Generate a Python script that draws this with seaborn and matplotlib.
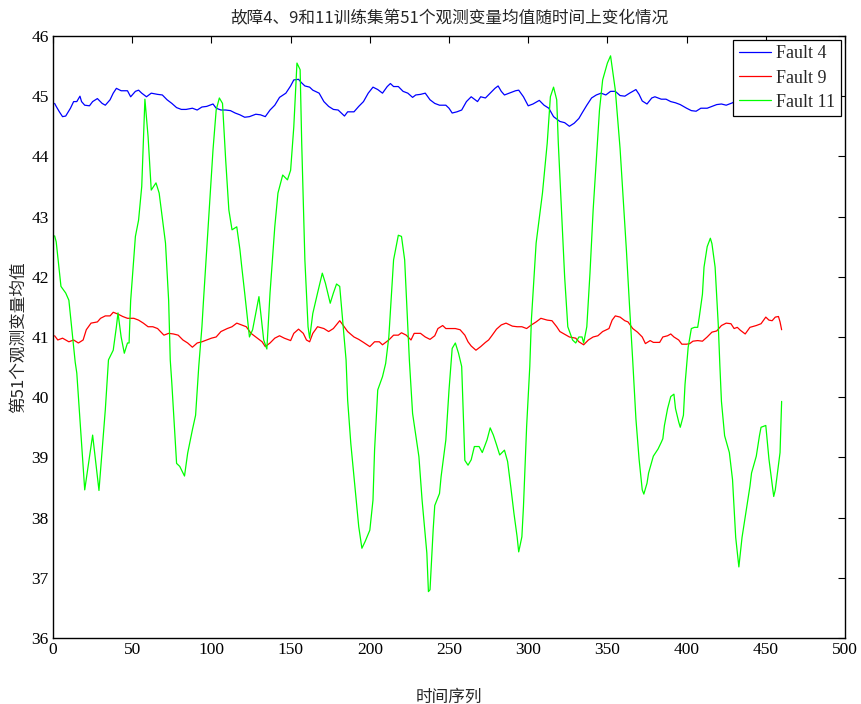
import matplotlib
matplotlib.use("Agg")
import matplotlib.pyplot as plt
import seaborn as sns
import pandas as pd

# Fault 4 — mean of observed variable 51 over time
f4_t = [1, 2, 4, 6, 8, 11, 13, 15, 17, 18, 20, 23, 25, 28, 31, 33, 36, 38, 40, 43, 47, 49, 52, 54, 56, 59,
        62, 66, 69, 72, 75, 78, 81, 84, 88, 91, 94, 97, 101, 103, 106, 109, 112, 115, 118, 121, 124, 128,
        131, 134, 137, 140, 143, 147, 150, 152, 155, 157, 159, 162, 164, 168, 171, 174, 177, 180, 184, 186,
        190, 193, 196, 199, 202, 205, 208, 211, 213, 215, 218, 221, 224, 227, 229, 232, 235, 238, 241, 244,
        248, 250, 252, 255, 258, 261, 264, 268, 270, 273, 276, 279, 281, 283, 285, 289, 292, 294, 297, 300,
        303, 307, 310, 313, 316, 318, 320, 323, 326, 329, 332, 334, 337, 340, 343, 346, 349, 352, 355, 358,
        361, 364, 368, 370, 372, 375, 378, 380, 384, 387, 390, 393, 396, 400, 403, 406, 409, 413, 416, 419,
        422, 425, 429, 432, 436, 440, 445, 450, 455, 460]
f4_v = [44.88, 44.83, 44.74, 44.66, 44.67, 44.80, 44.91, 44.91, 45.00, 44.91, 44.85, 44.84, 44.91, 44.96,
        44.88, 44.85, 44.94, 45.05, 45.13, 45.09, 45.09, 44.99, 45.08, 45.10, 45.05, 44.99, 45.05, 45.03,
        45.02, 44.94, 44.88, 44.81, 44.78, 44.78, 44.80, 44.77, 44.82, 44.83, 44.87, 44.80, 44.77, 44.77,
        44.76, 44.72, 44.69, 44.65, 44.66, 44.70, 44.69, 44.66, 44.77, 44.85, 44.98, 45.05, 45.17, 45.27,
        45.28, 45.22, 45.17, 45.15, 45.10, 45.05, 44.91, 44.83, 44.78, 44.77, 44.67, 44.74, 44.74, 44.83,
        44.91, 45.05, 45.15, 45.11, 45.05, 45.16, 45.21, 45.16, 45.16, 45.08, 45.05, 44.98, 45.02, 45.03,
        45.05, 44.94, 44.88, 44.85, 44.85, 44.80, 44.72, 44.74, 44.77, 44.91, 44.99, 44.91, 44.99, 44.97,
        45.05, 45.13, 45.17, 45.08, 45.02, 45.06, 45.09, 45.10, 44.99, 44.84, 44.87, 44.93, 44.85, 44.80,
        44.66, 44.62, 44.58, 44.56, 44.50, 44.55, 44.63, 44.72, 44.85, 44.97, 45.02, 45.05, 45.02, 45.08,
        45.08, 45.01, 45.00, 45.05, 45.11, 45.03, 44.92, 44.87, 44.97, 44.99, 44.95, 44.95, 44.91, 44.89,
        44.86, 44.80, 44.76, 44.75, 44.80, 44.80, 44.83, 44.86, 44.87, 44.85, 44.89, 44.95, 44.97, 45.00,
        45.02, 45.00, 45.03, 45.00]

# Fault 9
f9_t = [1, 3, 6, 10, 13, 16, 19, 21, 24, 28, 30, 33, 36, 38, 41, 44, 47, 51, 54, 57, 60, 63, 66, 70, 73,
        76, 79, 82, 85, 88, 91, 94, 97, 100, 103, 106, 110, 113, 116, 119, 122, 125, 129, 132, 134, 137,
        140, 143, 146, 150, 152, 155, 158, 160, 162, 164, 167, 171, 174, 177, 181, 183, 186, 190, 193, 196,
        200, 203, 206, 208, 212, 215, 218, 220, 223, 226, 228, 232, 235, 238, 241, 243, 246, 248, 251, 254,
        257, 260, 262, 264, 267, 270, 273, 275, 277, 280, 283, 286, 290, 293, 296, 299, 302, 305, 308, 312,
        315, 318, 320, 322, 324, 326, 330, 332, 335, 338, 341, 344, 347, 351, 353, 355, 358, 361, 363, 366,
        369, 372, 374, 377, 379, 383, 385, 388, 390, 392, 395, 397, 400, 402, 404, 407, 410, 413, 416, 419,
        422, 425, 428, 430, 432, 434, 437, 440, 444, 447, 450, 452, 454, 456, 458, 459, 460]
f9_v = [41.02, 40.95, 40.98, 40.92, 40.95, 40.90, 40.95, 41.12, 41.23, 41.25, 41.31, 41.35, 41.35, 41.41,
        41.38, 41.34, 41.31, 41.31, 41.28, 41.23, 41.17, 41.17, 41.14, 41.03, 41.06, 41.05, 41.03, 40.95,
        40.90, 40.83, 40.90, 40.92, 40.95, 40.98, 41.00, 41.09, 41.14, 41.17, 41.23, 41.20, 41.17, 41.06,
        40.98, 40.92, 40.84, 40.90, 40.98, 41.02, 40.98, 40.94, 41.06, 41.13, 41.06, 40.95, 40.92, 41.06,
        41.17, 41.14, 41.09, 41.14, 41.27, 41.20, 41.09, 41.00, 40.96, 40.91, 40.84, 40.92, 40.92, 40.87,
        40.95, 41.03, 41.03, 41.07, 41.03, 40.95, 41.06, 41.06, 41.00, 40.96, 41.02, 41.14, 41.19, 41.14,
        41.14, 41.14, 41.12, 41.03, 40.92, 40.85, 40.78, 40.84, 40.91, 40.95, 41.02, 41.13, 41.20, 41.23,
        41.18, 41.17, 41.17, 41.14, 41.20, 41.25, 41.31, 41.28, 41.27, 41.17, 41.09, 41.06, 41.03, 41.00,
        40.98, 40.92, 40.87, 40.95, 41.00, 41.02, 41.09, 41.14, 41.28, 41.35, 41.33, 41.27, 41.25, 41.14,
        41.08, 41.00, 40.89, 40.94, 40.91, 40.91, 41.00, 41.02, 41.05, 41.00, 40.95, 40.88, 40.88, 40.89,
        40.93, 40.94, 40.93, 41.00, 41.08, 41.10, 41.19, 41.23, 41.22, 41.14, 41.16, 41.11, 41.05, 41.16,
        41.19, 41.22, 41.33, 41.28, 41.27, 41.33, 41.34, 41.25, 41.12]

# Fault 11
f11_t = [1, 2, 5, 8, 10, 14, 15, 20, 25, 29, 33, 35, 38, 40, 41, 43, 45, 47, 48, 49, 52, 54, 56, 58, 60,
         62, 65, 67, 71, 73, 74, 75, 78, 80, 83, 85, 88, 90, 92, 94, 95, 97, 101, 103, 105, 107, 109, 111,
         113, 116, 118, 119, 121, 124, 126, 130, 133, 135, 137, 140, 142, 145, 148, 150, 152, 154, 156, 157,
         159, 161, 162, 164, 167, 170, 172, 175, 177, 179, 181, 183, 185, 186, 188, 191, 193, 195, 197, 200,
         202, 203, 205, 208, 210, 212, 215, 218, 220, 222, 224, 225, 227, 231, 233, 236, 237, 238, 240, 241,
         244, 245, 248, 250, 252, 254, 256, 258, 260, 262, 264, 266, 269, 271, 274, 276, 278, 280, 282, 285,
         287, 289, 291, 293, 294, 296, 297, 299, 301, 302, 305, 309, 312, 314, 316, 318, 319, 321, 323, 325,
         328, 330, 332, 334, 335, 337, 339, 341, 343, 345, 347, 350, 352, 355, 358, 360, 362, 364, 366, 368,
         370, 372, 373, 375, 376, 379, 382, 384, 385, 386, 388, 390, 392, 393, 395, 396, 398, 399, 401, 403,
         405, 407, 408, 410, 411, 413, 415, 416, 418, 420, 421, 422, 424, 427, 429, 431, 433, 435, 438, 440,
         441, 444, 446, 447, 450, 452, 455, 456, 459, 460]
f11_v = [42.68, 42.58, 41.84, 41.73, 41.61, 40.58, 40.40, 38.46, 39.37, 38.45, 39.79, 40.62, 40.78, 41.17,
         41.40, 41.00, 40.73, 40.90, 40.90, 41.60, 42.67, 42.94, 43.50, 44.95, 44.33, 43.44, 43.56, 43.39,
         42.56, 41.60, 40.62, 40.23, 38.90, 38.85, 38.69, 39.07, 39.46, 39.70, 40.51, 41.17, 41.61, 42.45,
         44.11, 44.77, 44.97, 44.88, 43.94, 43.11, 42.78, 42.83, 42.45, 42.20, 41.73, 41.00, 41.12, 41.67,
         40.95, 40.80, 41.73, 42.83, 43.39, 43.69, 43.61, 43.77, 44.49, 45.55, 45.44, 44.22, 42.28, 41.17,
         40.98, 41.39, 41.73, 42.06, 41.89, 41.56, 41.73, 41.88, 41.84, 41.23, 40.62, 39.95, 39.23, 38.40,
         37.85, 37.49, 37.60, 37.79, 38.29, 39.12, 40.12, 40.34, 40.56, 41.00, 42.28, 42.69, 42.67, 42.28,
         41.17, 40.60, 39.73, 39.01, 38.29, 37.41, 36.77, 36.80, 37.80, 38.20, 38.40, 38.68, 39.29, 40.12,
         40.81, 40.90, 40.73, 40.51, 38.95, 38.87, 38.96, 39.18, 39.18, 39.08, 39.29, 39.49, 39.37, 39.21,
         39.04, 39.12, 38.93, 38.51, 38.07, 37.68, 37.43, 37.68, 38.18, 39.51, 40.51, 41.28, 42.56, 43.39,
         44.22, 44.99, 45.15, 44.94, 44.22, 43.11, 42.00, 41.17, 40.95, 40.90, 41.00, 41.00, 40.90, 41.17,
         42.06, 43.11, 43.94, 44.77, 45.27, 45.55, 45.67, 45.10, 44.13, 43.28, 42.44, 41.50, 40.60, 39.64,
         38.97, 38.46, 38.39, 38.57, 38.74, 39.02, 39.14, 39.25, 39.31, 39.53, 39.81, 40.01, 40.05, 39.81,
         39.59, 39.50, 39.70, 40.21, 40.83, 41.14, 41.16, 41.16, 41.33, 41.71, 42.16, 42.50, 42.64, 42.55,
         42.16, 41.20, 40.53, 39.93, 39.36, 39.08, 38.63, 37.67, 37.18, 37.67, 38.18, 38.52, 38.74, 39.02,
         39.36, 39.50, 39.53, 38.97, 38.35, 38.46, 39.08, 39.93]

series = [("Fault 4", f4_t, f4_v, "#0000ff"),
          ("Fault 9", f9_t, f9_v, "#ff0000"),
          ("Fault 11", f11_t, f11_v, "#00ff00")]

title = "故障4、9和11训练集第51个观测变量均值随时间上变化情况"
xlabel = "时间序列"
ylabel = "第51个观测变量均值"

sns.set_style("white")
plt.rcParams["font.family"] = ["Liberation Serif", "DejaVu Serif"]
cjk = ["Noto Sans CJK SC", "DejaVu Sans"]

fig = plt.figure(figsize=(8.61, 7.04), dpi=100)
ax = fig.add_axes([0.0616, 0.0938, 0.9198, 0.8551])

for name, t, v, c in series:
    df = pd.DataFrame({"t": t, "v": v})
    sns.lineplot(data=df, x="t", y="v", color=c, linewidth=0.9, label=name,
                 ax=ax, sort=False, estimator=None)

ax.set_xlim(0, 500)
ax.set_ylim(36, 46)
ax.set_xticks(range(0, 501, 50))
ax.set_yticks(range(36, 47, 1))
ax.tick_params(direction="in", length=5, width=0.8, top=True, right=True,
               labelsize=12.5, colors="black", pad=3)
for s in ax.spines.values():
    s.set_visible(True)
    s.set_color("black")
    s.set_linewidth(1.0)

ax.set_title(title, fontsize=12, family=cjk, pad=9)
ax.set_xlabel(xlabel, fontsize=12, family=cjk, labelpad=22)
ax.set_ylabel(ylabel, fontsize=12, family=cjk, labelpad=3)

leg = ax.legend(loc="upper right", frameon=True, fancybox=False, framealpha=1,
                edgecolor="black", fontsize=13, borderaxespad=0.22,
                handlelength=1.8, handletextpad=0.3, labelspacing=0.4,
                borderpad=0.3)
leg.get_frame().set_linewidth(0.9)

fig.savefig("out.png", dpi=100)
